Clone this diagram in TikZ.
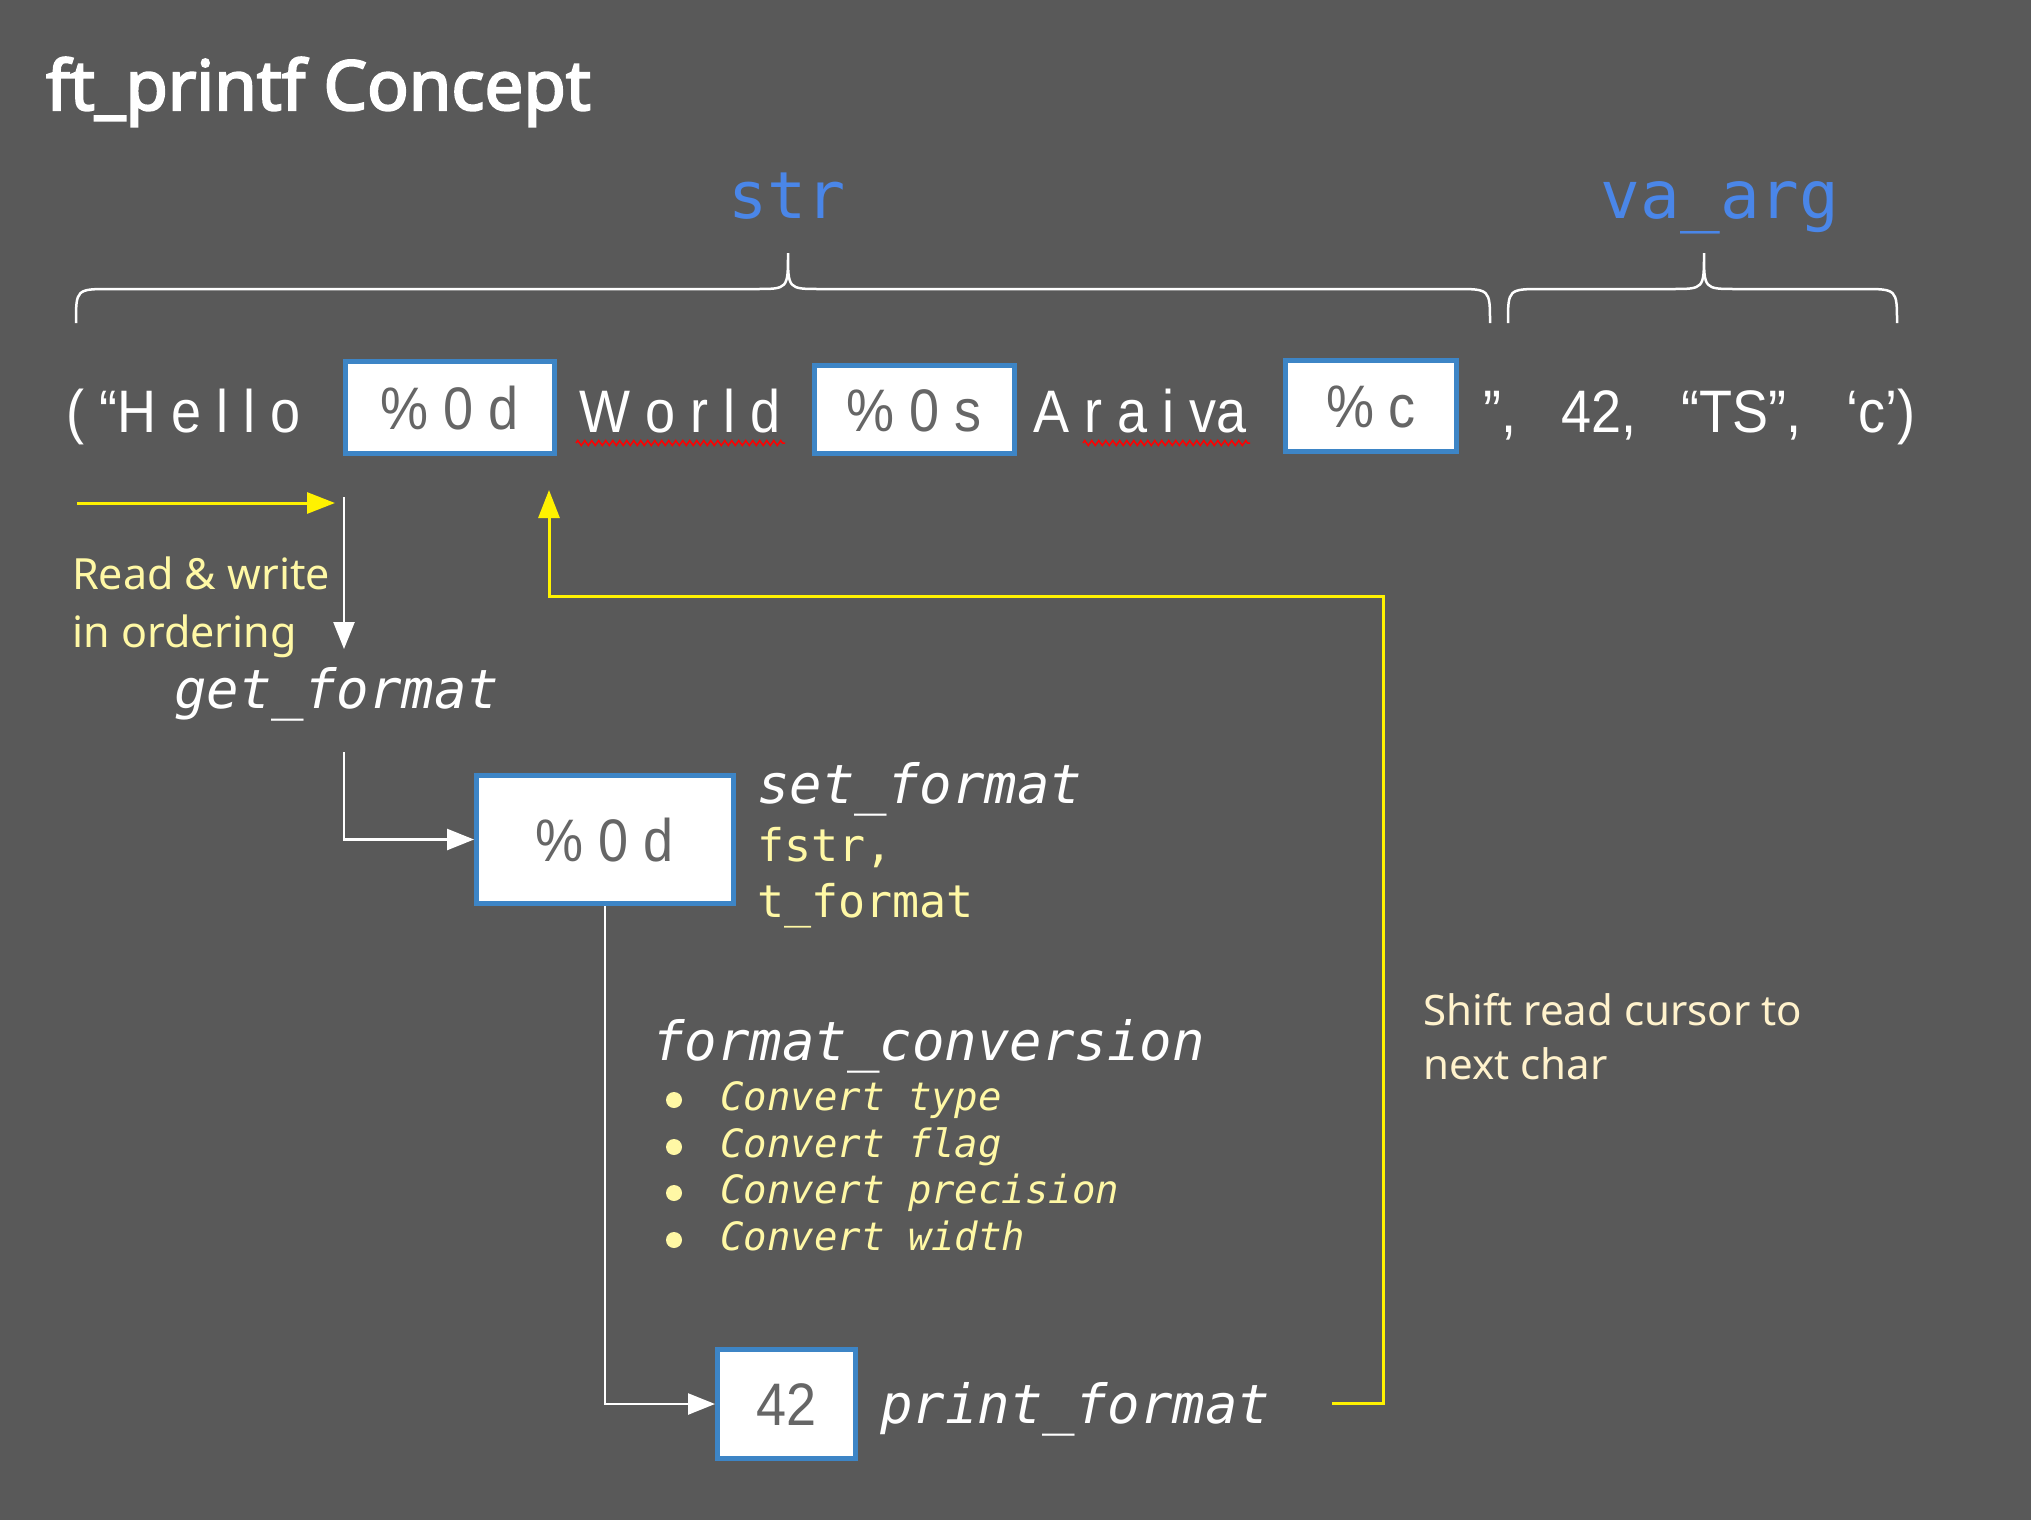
\documentclass[tikz,border=0pt]{standalone}
\usepackage{fontspec}
\setmainfont{Noto Sans}
\setmonofont{DejaVu Sans Mono}
\newfontfamily\rowfont{Liberation Sans}[FakeStretch=0.9]
\newfontfamily\titlefont{Noto Sans}[FakeBold=3]
\usetikzlibrary{arrows.meta,decorations.pathmorphing}
\definecolor{slidebg}{RGB}{89,89,89}
\definecolor{argblue}{RGB}{74,134,232}
\definecolor{boxblue}{RGB}{61,133,198}
\definecolor{boxtext}{RGB}{102,102,102}
\definecolor{paleyellow}{RGB}{255,248,165}
\definecolor{cream}{RGB}{255,242,204}
\newcommand{\px}[1]{\fontsize{#1}{#1}\selectfont}
\tikzset{
  txt/.style={inner sep=0pt, anchor=base west},
  fmtbox/.style={draw=boxblue, line width=5pt, fill=white, text=boxtext, inner sep=0pt,
    text height=43pt, text depth=0pt},
  brace line/.style={white, line width=2.5pt},
  warrow/.style={white, line width=2.5pt, -{Triangle[length=27pt,width=21pt]}},
  yarrow/.style={yellow, line width=3pt, -{Triangle[length=28pt,width=21pt]}},
  squiggle/.style={red, line width=1.5pt, decorate, decoration={zigzag, segment length=7pt, amplitude=2.5pt}},
}
\begin{document}
\begin{tikzpicture}[x=1pt, y=-1pt]
  \fill[slidebg] (0,0) rectangle (2031,1520);
  \useasboundingbox (0,0) rectangle (2031,1520);

  \node[txt, text=white, font=\titlefont\px{69}] (title) at (46,110) {ft\_printf Concept};

  % braces
  \node[inner sep=0pt, anchor=base, text=argblue, font=\ttfamily\px{65}] (str) at (787,218) {str};
  \node[inner sep=0pt, anchor=base, text=argblue, font=\ttfamily\px{66}] (vaarg) at (1720,218) {va\_arg};
  \draw[brace line] (76,323) .. controls (76,289) .. (111,289) -- (756,289)
    .. controls (788,289) .. (788,253) .. controls (788,289) .. (820,289)
    -- (1455,289) .. controls (1490,289) .. (1490,323);
  \draw[brace line] (1508,323) .. controls (1508,289) .. (1543,289) -- (1672,289)
    .. controls (1704,289) .. (1704,253) .. controls (1704,289) .. (1736,289)
    -- (1862,289) .. controls (1897,289) .. (1897,323);

  % the call
  \node[txt, text=white, font=\rowfont\px{60}] (hello) at (66,432) {( “H e l l o};
  \node[fmtbox, minimum width=209pt, minimum height=92pt, font=\rowfont\px{60}] (fmtd) at (450,407.5) {\% 0 d};
  \node[txt, text=white, font=\rowfont\px{60}] (world) at (579,432) {W o r l d};
  \node[fmtbox, minimum width=200pt, minimum height=88pt, font=\rowfont\px{60}] (fmts) at (914.5,409.5) {\% 0 s};
  \node[txt, text=white, font=\rowfont\px{60}] (araiva) at (1033,432) {A r a i va};
  \node[fmtbox, minimum width=171pt, minimum height=91pt, font=\rowfont\px{60}] (fmtc) at (1371,406) {\% c};
  \node[txt, text=white, font=\rowfont\px{60}] (args) at (1483,432)
    {”,\hspace{30pt} 42,\hspace{30pt} “TS”,\hspace{30pt} ‘c’)};
  \draw[squiggle] (576,443) -- (785,443);
  \draw[squiggle] (1083,443) -- (1250,443);

  % reading
  \coordinate (rwin) at (77,503);
  \coordinate (rwout) at (335,503);
  \draw[yarrow] (rwin) -- (rwout);
  \coordinate (readtop) at (344,497);
  \coordinate (readbot) at (344,649);
  \draw[warrow] (readtop) -- (readbot);
  \node[txt, text=paleyellow, font=\px{43}] (rw1) at (72,589) {Read \& write};
  \node[txt, text=paleyellow, font=\px{43}] (rw2) at (72,647) {in ordering};
  \node[txt, text=white, font=\ttfamily\itshape\px{54}] (getfmt) at (174,708) {get\_format};

  % set_format
  \node[fmtbox, minimum width=257pt, minimum height=128pt, font=\rowfont\px{60}] (setbox) at (605,839.5) {\% 0 d};
  \coordinate (getout) at (344,752);
  \draw[warrow] (getout) |- (setbox.west);
  \node[txt, text=white, font=\ttfamily\itshape\px{54}] (setfmt) at (757,803) {set\_format};
  \node[txt, text=paleyellow, font=\ttfamily\px{45}] (fstr) at (757,861) {fstr,};
  \node[txt, text=paleyellow, font=\ttfamily\px{45}] (tfmt) at (757,917) {t\_format};

  % format_conversion
  \node[txt, text=white, font=\ttfamily\itshape\px{54}] (conv) at (652,1060) {format\_conversion};
  \fill[paleyellow] (674,1100) circle (8);
  \fill[paleyellow] (674,1147) circle (8);
  \fill[paleyellow] (674,1193) circle (8);
  \fill[paleyellow] (674,1240) circle (8);
  \node[txt, text=paleyellow, font=\ttfamily\itshape\px{39}] (ctype) at (720,1110) {Convert type};
  \node[txt, text=paleyellow, font=\ttfamily\itshape\px{39}] (cflag) at (720,1157) {Convert flag};
  \node[txt, text=paleyellow, font=\ttfamily\itshape\px{39}] (cprec) at (720,1203) {Convert precision};
  \node[txt, text=paleyellow, font=\ttfamily\itshape\px{39}] (cwidth) at (720,1250) {Convert width};

  % print_format
  \node[fmtbox, minimum width=138pt, minimum height=109pt, font=\rowfont\px{60}] (numbox) at (786.5,1404) {42};
  \draw[warrow] (setbox.south) |- (numbox.west);
  \node[txt, text=white, font=\ttfamily\itshape\px{54}] (printfmt) at (880,1423) {print\_format};

  % back to the string
  \coordinate (printout) at (1332,1403);
  \coordinate (turn) at (1383,596);
  \coordinate (cursor) at (549,490);
  \draw[yarrow] (printout) -| (turn) -| (cursor);
  \node[txt, text=cream, font=\px{42}] (shift1) at (1423,1025) {Shift read cursor to};
  \node[txt, text=cream, font=\px{42}] (shift2) at (1423,1079) {next char};
\end{tikzpicture}
\end{document}
